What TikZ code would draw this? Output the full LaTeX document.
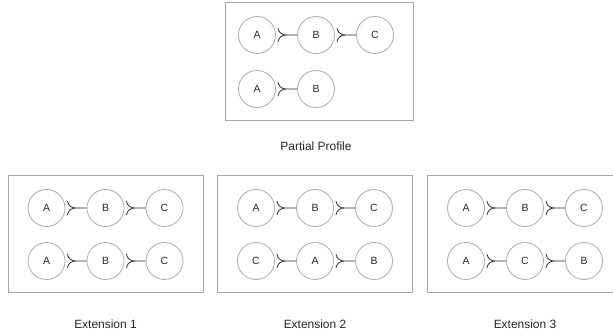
\documentclass[tikz,border=0pt]{standalone}
\usepackage{fontspec}
\setmainfont{Liberation Sans}
\tikzset{
  prof/.style={draw=black!35, line width=1pt, minimum width=195bp, minimum height=117bp},
  alt/.style={circle, draw=black!33, line width=0.8pt, minimum size=37bp, inner sep=0pt, text=black!85, font=\fontsize{10.5}{12}\selectfont},
  pref/.style={line width=0.75pt, black!85},
  caption/.style={anchor=base, text=black!85, font=\fontsize{12}{14}\selectfont}
}
% fork from one alternative to the next
\newcommand{\prefer}[2]{\draw[pref] (#1.east) ++(2,-7) .. controls +(1,5) and +(-5,0) .. ++(9,7) -- (#2.west) (#1.east) ++(2,7) .. controls +(1,-5) and +(-5,0) .. ++(9,-7);}
\begin{document}
\begin{tikzpicture}[x=1bp,y=-1bp]
\useasboundingbox (0,0) rectangle (613,335);
% partial profile
\node[prof, minimum width=188bp, minimum height=118bp] (pp) at (319,61) {};
\node[alt] (ppa1) at (257,35) {A};
\node[alt] (ppb1) at (316,35) {B};
\node[alt] (ppc1) at (375,35) {C};
\node[alt] (ppa2) at (257,89) {A};
\node[alt] (ppb2) at (316,89) {B};
\prefer{ppa1}{ppb1}
\prefer{ppb1}{ppc1}
\prefer{ppa2}{ppb2}
\node[caption] (ppcap) at (316,150) {Partial Profile};
% extensions
\foreach \nm/\n/\cx/\la/\lb/\lc in {e1/1/105.5/A/B/C, e2/2/315/C/A/B, e3/3/525/A/C/B} {
  \node[prof] (\nm) at (\cx,233.5) {};
  \node[alt] (\nm a1) at (\cx-59,208) {A};
  \node[alt] (\nm b1) at (\cx,208) {B};
  \node[alt] (\nm c1) at (\cx+59,208) {C};
  \node[alt] (\nm a2) at (\cx-59,261) {\la};
  \node[alt] (\nm b2) at (\cx,261) {\lb};
  \node[alt] (\nm c2) at (\cx+59,261) {\lc};
  \prefer{\nm a1}{\nm b1}
  \prefer{\nm b1}{\nm c1}
  \prefer{\nm a2}{\nm b2}
  \prefer{\nm b2}{\nm c2}
  \node[caption] (\nm cap) at (\cx,328) {Extension \n};
}
\end{tikzpicture}
\end{document}
